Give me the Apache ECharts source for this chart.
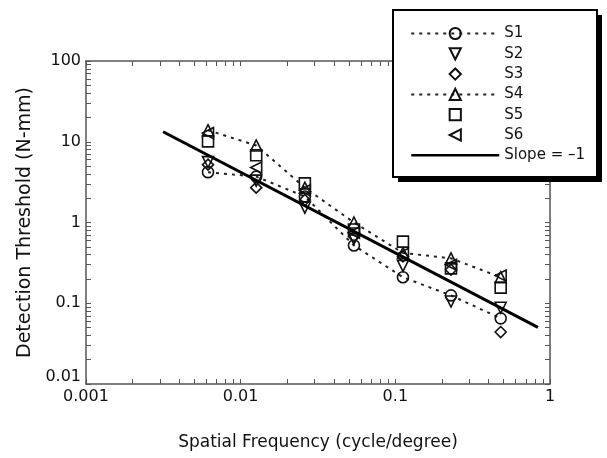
<!DOCTYPE html>
<html><head><meta charset="utf-8">
<script src="https://cdn.jsdelivr.net/npm/echarts@6/dist/echarts.min.js"></script>
<style>html,body{margin:0;padding:0;background:#fff}#c{width:607px;height:458px}</style>
</head><body><div id="c"></div>
<script>
// ---- data ----
const freq = [0.00615, 0.0126, 0.026, 0.054, 0.112, 0.229, 0.48];
const s1 = [4.2, 3.7, 2.1, 0.52, 0.21, 0.125, 0.065];
const s2 = [5.6, 3.3, 1.53, 0.63, 0.29, 0.105, 0.088];
const s3 = [5.2, 2.7, 1.9, 0.67, 0.38, 0.26, 0.044];
const s4 = [13.9, 9.0, 2.7, 1.0, 0.42, 0.36, 0.21];
const s5 = [10.1, 6.8, 3.05, 0.82, 0.58, 0.27, 0.156];
const s6 = [12.8, 4.8, 2.5, 0.75, 0.41, 0.30, 0.22];
const slopeX = [0.00315, 0.836];
const slopeY = [13.3, 0.0502];
const xTickLabels = [0.001, 0.01, 0.1, 1];
const yTickLabels = [0.01, 0.1, 1, 10, 100];
const seriesNames = ['S1', 'S2', 'S3', 'S4', 'S5', 'S6', 'Slope = \u20131'];

const FONT = 'DejaVu Sans';
const axisColor = '#555';

function logTicks(lo, hi) {
  const out = [];
  const top = Math.pow(10, hi);
  for (let e = lo; e <= hi; e++) {
    for (let m = 1; m <= 9; m++) {
      const v = +(m * Math.pow(10, e)).toPrecision(6);
      if (v <= top * 1.0000001) out.push(v);
    }
  }
  return out;
}
const xMinor = logTicks(-3, 0);
const yMinor = logTicks(-2, 2);
const fmt = v => String(+(+v).toPrecision(4));

function mkX(pos, show) {
  return {
    type: 'log', logBase: 10, min: 0.001, max: 1, position: pos,
    name: show ? 'Spatial Frequency (cycle/degree)' : '',
    nameLocation: 'middle', nameGap: 50,
    nameTextStyle: { fontFamily: FONT, fontSize: 17, color: '#111' },
    axisLine: { show: true, onZero: false, lineStyle: { color: axisColor, width: 1.5 } },
    axisTick: { show: true, inside: true, length: 5, customValues: xMinor, lineStyle: { color: axisColor, width: 1 } },
    axisLabel: { show: show, customValues: xTickLabels, margin: 5, fontFamily: FONT, fontSize: 16, color: '#111', formatter: fmt },
    splitLine: { show: false }
  };
}
function mkY(pos, show) {
  return {
    type: 'log', logBase: 10, min: 0.01, max: 100, position: pos,
    name: show ? 'Detection Threshold (N-mm)' : '',
    nameLocation: 'middle', nameGap: 50,
    nameTextStyle: { fontFamily: FONT, fontSize: 19, color: '#111' },
    axisLine: { show: true, onZero: false, lineStyle: { color: axisColor, width: 1.5 } },
    axisTick: { show: true, inside: true, length: 5, customValues: yMinor, lineStyle: { color: axisColor, width: 1 } },
    axisLabel: {
      show: show, customValues: yTickLabels, margin: 5, fontFamily: FONT, fontSize: 16, color: '#111',
      formatter: v => { const s = fmt(v); return s === '0.01' ? '{lo|' + s + '}' : s; },
      rich: { lo: { fontFamily: FONT, fontSize: 16, color: '#111', padding: [0, 0, 14, 0] } }
    },
    splitLine: { show: false }
  };
}

function mk(name, ys, symbol, dotted) {
  return {
    name: name, type: 'line', data: freq.map((f, i) => [f, ys[i]]),
    symbol: symbol, symbolSize: 11, showSymbol: true, z: 3,
    lineStyle: dotted ? { color: '#222', width: 2, type: [3, 5] } : { color: '#222', width: 0, opacity: 0 },
    itemStyle: { color: 'rgba(255,255,255,0)', borderColor: '#111', borderWidth: 1.6 },
    emphasis: { disabled: true }
  };
}

const DOWN = 'path://M0,0L10,0L5,9Z';
const LEFT = 'path://M9,0L9,10L0,5Z';

const series = [
  mk(seriesNames[0], s1, 'circle', true),
  mk(seriesNames[1], s2, DOWN, false),
  mk(seriesNames[2], s3, 'diamond', false),
  mk(seriesNames[3], s4, 'triangle', true),
  mk(seriesNames[4], s5, 'rect', false),
  mk(seriesNames[5], s6, LEFT, false),
  {
    name: seriesNames[6], type: 'line', data: slopeX.map((x, i) => [x, slopeY[i]]),
    symbol: 'none', z: 4, lineStyle: { color: '#000', width: 3 }, itemStyle: { color: '#000' },
    emphasis: { disabled: true }
  }
];

const legendData = seriesNames.map((n, i) => i === 6
  ? { name: n, itemStyle: { opacity: 0 }, lineStyle: { width: 2.5, color: '#000' } }
  : { name: n });

const chart = echarts.init(document.getElementById('c'), null, { renderer: 'canvas' });
chart.setOption({
  animation: false,
  backgroundColor: '#fff',
  grid: { left: 86, right: 57, top: 61, bottom: 74, containLabel: false },
  xAxis: [mkX('bottom', true), mkX('top', false)],
  yAxis: [mkY('left', true), mkY('right', false)],
  legend: {
    data: legendData, orient: 'vertical', left: 393, top: 10,
    padding: [16, 10, 10, 17], itemWidth: 88, itemHeight: 14, itemGap: 5.3, itemTextGap: 13,
    textStyle: { fontFamily: FONT, fontSize: 15, lineHeight: 15, color: '#111' },
    selectedMode: false, z: 10
  },
  graphic: [
    { type: 'rect', shape: { x: 398, y: 15, width: 204, height: 167 }, style: { fill: '#000' }, z: 5 },
    { type: 'rect', shape: { x: 393, y: 10, width: 204, height: 167 }, style: { fill: '#fff', stroke: '#000', lineWidth: 2 }, z: 6 }
  ],
  series: series
});
</script>
</body></html>
